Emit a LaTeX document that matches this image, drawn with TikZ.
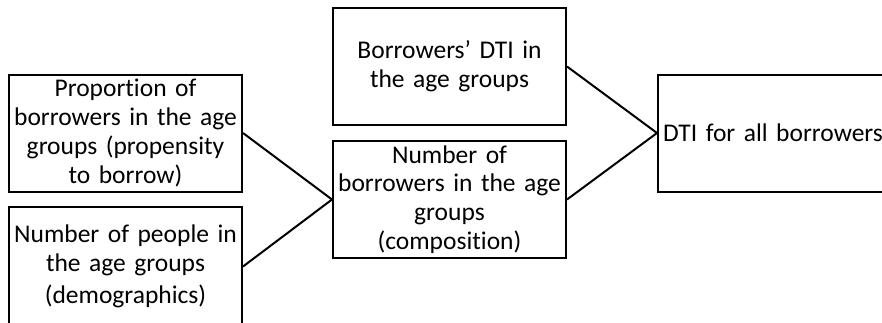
\documentclass[tikz,border=0pt]{standalone}
\usepackage{fontspec}
\setmainfont{Carlito}[Ligatures=NoCommon,WordSpace=0.75]
\usetikzlibrary{positioning}

\begin{document}
\begin{tikzpicture}[x=1pt,y=-1pt,
  box/.style={rectangle,draw,line width=2pt,minimum width=233pt,minimum height=117pt,text width=231pt,align=center,inner xsep=1pt,inner ysep=2pt},
  link/.style={line width=2pt},
  font=\fontsize{25.5}{28.7}\selectfont]
\useasboundingbox (0,0) rectangle (882,322);
\clip (0,0) rectangle (882,322);
\node[box] (prop) at (125.5,133) {Proportion of\\borrowers in the age\\groups (propensity\\to borrow)};
\node[box,minimum height=119pt] (people) at (125.5,266.5) {Number of people in\\the age groups\\[4pt](demographics)};
\node[box] (dtiage) at (449.5,66.5) {Borrowers’ DTI in\\the age groups};
\node[box] (number) at (449.5,199.5) {Number of\\borrowers in the age\\groups\\(composition)};
\node[box,anchor=west,minimum width=260pt,text width=250pt,align=left,inner xsep=5pt] (dtiall) at (657,133) {DTI for all borrowers};
\draw[link] (prop.east) -- (number.west);
\draw[link] (people.east) -- (number.west);
\draw[link] (dtiage.east) -- (dtiall.west);
\draw[link] (number.east) -- (dtiall.west);
\end{tikzpicture}
\end{document}
